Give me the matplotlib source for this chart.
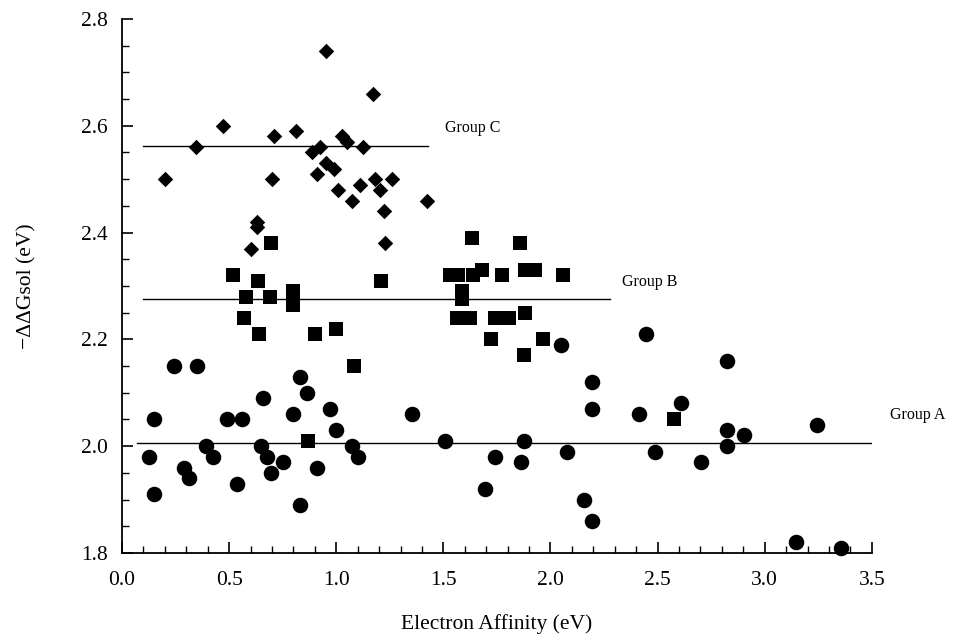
import matplotlib.pyplot as plt
import numpy as np
from matplotlib.ticker import MultipleLocator, FormatStrFormatter

plt.rcParams['font.family'] = ['Liberation Serif', 'DejaVu Serif']

# Group C (diamonds)
c_x = [0.20, 0.344, 0.472, 0.70, 0.71, 0.81, 0.888, 0.925, 0.91, 0.953, 0.99, 1.028,
       1.05, 1.009, 1.072, 1.123, 1.111, 1.182, 1.203, 1.26, 1.221, 1.229, 1.424,
       0.632, 0.632, 0.603, 1.171, 0.953]
c_y = [2.50, 2.56, 2.60, 2.50, 2.58, 2.59, 2.55, 2.56, 2.51, 2.53, 2.52, 2.58,
       2.57, 2.48, 2.46, 2.56, 2.49, 2.50, 2.48, 2.50, 2.44, 2.38, 2.46,
       2.42, 2.41, 2.37, 2.66, 2.74]

# Group B (squares)
b_x = [0.695, 0.52, 0.636, 0.579, 0.692, 0.80, 0.80, 0.57, 0.64, 0.902, 1.0, 1.081,
       1.21, 1.634, 1.856, 1.533, 1.57, 1.68, 1.64, 1.587, 1.587, 1.774, 1.883, 1.93,
       2.058, 1.564, 1.626, 1.743, 1.806, 1.883, 1.723, 1.966, 1.876, 0.868, 2.576]
b_y = [2.38, 2.32, 2.31, 2.28, 2.28, 2.29, 2.265, 2.24, 2.21, 2.21, 2.22, 2.15,
       2.31, 2.39, 2.38, 2.32, 2.32, 2.33, 2.32, 2.29, 2.275, 2.32, 2.33, 2.33,
       2.32, 2.24, 2.24, 2.24, 2.24, 2.25, 2.20, 2.20, 2.17, 2.01, 2.05]

# Group A (circles)
a_x = [0.243, 0.352, 0.15, 0.128, 0.15, 0.29, 0.312, 0.393, 0.424, 0.489, 0.559, 0.536,
       0.66, 0.65, 0.679, 0.695, 0.751, 0.80, 0.832, 0.863, 0.829, 0.91, 0.972, 1.0,
       1.073, 1.10, 1.354, 1.509, 1.743, 1.693, 1.876, 1.863, 2.075, 2.047, 2.196,
       2.196, 2.156, 2.196, 2.413, 2.444, 2.486, 2.607, 2.704, 2.826, 2.826, 2.826,
       2.903, 3.246, 3.145, 3.358]
a_y = [2.15, 2.15, 2.05, 1.98, 1.91, 1.96, 1.94, 2.00, 1.98, 2.05, 2.05, 1.93,
       2.09, 2.00, 1.98, 1.95, 1.97, 2.06, 2.13, 2.10, 1.89, 1.96, 2.07, 2.03,
       2.00, 1.98, 2.06, 2.01, 1.98, 1.92, 2.01, 1.97, 1.99, 2.19, 2.12,
       2.07, 1.90, 1.86, 2.06, 2.21, 1.99, 2.08, 1.97, 2.16, 2.03, 2.00,
       2.02, 2.04, 1.82, 1.81]

# group mean levels and extents of their lines
group_names = ['Group A', 'Group B', 'Group C']
group_level = [2.005, 2.276, 2.563]
line_start = [0.07, 0.10, 0.10]
line_end = [3.5, 2.276, 1.43]
label_pos = [(3.584, 2.058), (2.336, 2.307), (1.509, 2.596)]

fig = plt.figure(figsize=(9.56, 6.4), dpi=100)
ax = fig.add_axes([0.1276, 0.136, 0.7844, 0.8343])

ax.scatter(a_x, a_y, marker='o', s=125, color='black', linewidths=0, clip_on=False, zorder=3)
ax.scatter(b_x, b_y, marker='s', s=110, color='black', linewidths=0, clip_on=False, zorder=3)
ax.scatter(c_x, c_y, marker='D', s=62, color='black', linewidths=0, clip_on=False, zorder=3)

for lvl, x0, x1, name, (tx, ty) in zip(group_level, line_start, line_end, group_names, label_pos):
    ax.plot([x0, x1], [lvl, lvl], color='black', linewidth=1.0, zorder=2)
    ax.text(tx, ty, name, fontsize=11.5, ha='left', va='center', clip_on=False)

ax.set_xlim(0.0, 3.5)
ax.set_ylim(1.8, 2.8)
ax.spines['top'].set_visible(False)
ax.spines['right'].set_visible(False)
ax.spines['left'].set_linewidth(1.3)
ax.spines['bottom'].set_linewidth(1.3)

ax.xaxis.set_major_locator(MultipleLocator(0.5))
ax.xaxis.set_minor_locator(MultipleLocator(0.1))
ax.yaxis.set_major_locator(MultipleLocator(0.2))
ax.yaxis.set_minor_locator(MultipleLocator(0.05))
ax.xaxis.set_major_formatter(FormatStrFormatter('%.1f'))
ax.yaxis.set_major_formatter(FormatStrFormatter('%.1f'))
ax.tick_params(which='major', direction='in', length=8, width=1.2, labelsize=15.5, pad=13)
ax.tick_params(which='minor', direction='in', length=5, width=1.0)
ax.tick_params(axis='y', which='major', pad=10)

ax.set_xlabel('Electron Affinity (eV)', fontsize=15.5, labelpad=17)
ax.set_ylabel('\u2212\u0394\u0394Gsol (eV)', fontsize=15.5, labelpad=32)

fig.savefig('out.png', dpi=100)
